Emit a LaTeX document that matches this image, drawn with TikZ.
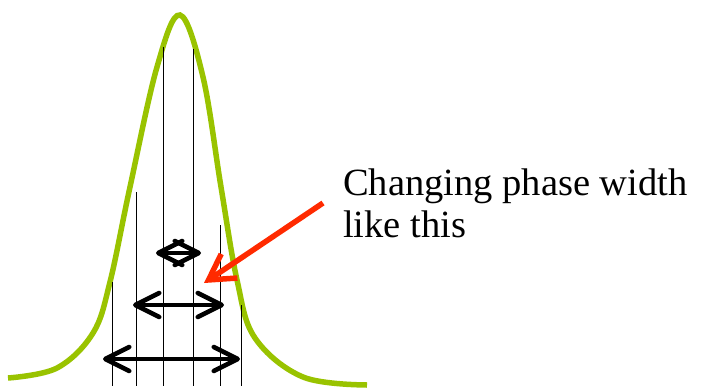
\documentclass[tikz,border=0pt]{standalone}
\usepackage{fontspec}
\setmainfont{Liberation Serif}
\usetikzlibrary{arrows.meta}
\definecolor{peakgreen}{HTML}{99C300}
\definecolor{pointred}{HTML}{FF2A00}

\begin{document}
\begin{tikzpicture}[x=1pt,y=-1pt,
    widtharrow/.style={line width=4.5pt,line cap=round,
      {Straight Barb[length=24pt,width=24pt,line width=4.5pt,round]}-{Straight Barb[length=24pt,width=24pt,line width=4.5pt,round]}},
    phaseline/.style={line width=0.8pt}]
  \useasboundingbox (0,0) rectangle (701,388);
  % peak profile
  \draw[peakgreen,line width=5.5pt] plot[smooth,tension=0.6] coordinates {
    (8,378) (57,368) (93,333) (110,282) (130,187) (157,67) (180,15)
    (203,77) (221,187) (237,280) (255,338) (303,377) (367,385)
  };
  % phase boundaries
  \foreach \xp/\yt in {112/282, 136/192, 163/47, 193/49, 220/225, 241/305}
    \draw[phaseline] (\xp,\yt) -- (\xp,386);
  % phase widths
  \coordinate (w1l) at (156,253); \coordinate (w1r) at (201,253);
  \coordinate (w2l) at (133,305); \coordinate (w2r) at (224,305);
  \coordinate (w3l) at (103,359); \coordinate (w3r) at (240,359);
  \draw[widtharrow] (w1l) -- (w1r);
  \draw[widtharrow] (w2l) -- (w2r);
  \draw[widtharrow] (w3l) -- (w3r);
  % annotation (base = last line)
  \node[anchor=base west,inner sep=0pt,align=left,
        font=\fontsize{38.5}{42}\selectfont] (label) at (343,237)
    {Changing phase width\\like this};
  \coordinate (redstart) at (323,203);
  \coordinate (redtip) at (204,283);
  \draw[pointred,line width=5.5pt,-{Straight Barb[length=25pt,width=29pt,line width=5.5pt]}]
    (redstart) -- (redtip);
\end{tikzpicture}
\end{document}
